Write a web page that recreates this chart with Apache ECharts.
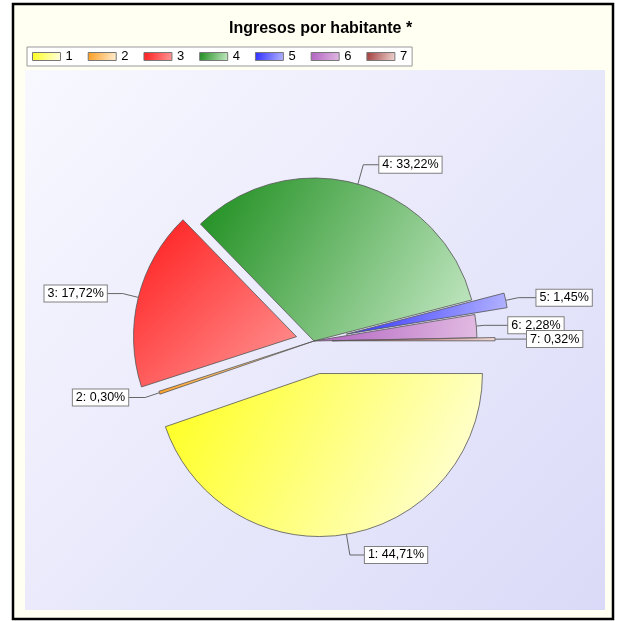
<!DOCTYPE html>
<html>
<head>
<meta charset="utf-8">
<script src="https://cdn.jsdelivr.net/npm/echarts@6/dist/echarts.min.js"></script>
<style>
  html, body { margin: 0; padding: 0; background: #fff; }
  #chart { width: 618px; height: 621px; }
</style>
</head>
<body>
<div id="chart"></div>
<script>
// datos
const names = ['1', '2', '3', '4', '5', '6', '7']
const values = [44.71, 0.30, 17.72, 33.22, 1.45, 2.28, 0.32]
// separacion de cada porcion (px)
const offsets = [33, 0, 18, 0, 33, 0, 18]
const baseColors = ['#ffff1a', '#ff9a1a', '#ff1a1a', '#1a8c1a', '#2a2aff', '#b060c0', '#a03a3a']
const lightColors = ['#ffffe8', '#fff0d8', '#ff9a9a', '#c8eac8', '#b8b8ff', '#e2bce2', '#f0d8d4']
const lineLen = [21, 15, 16, 20, 13, 8, 10]
const lineLen2 = [15, 17, 16, 16, 18, 24, 22]

const chart = echarts.init(document.getElementById('chart'))

function grad(i) {
  return {
    type: 'linear', x: 0, y: 0, x2: 1, y2: 1,
    colorStops: [
      { offset: 0, color: baseColors[i] },
      { offset: 1, color: lightColors[i] }
    ]
  }
}

function fmt(v) {
  return v.toFixed(2).replace('.', ',') + '%'
}

// una serie por porcion, para poder separar cada una con su propio desplazamiento
const series = names.map((n, i) => ({
  type: 'pie',
  center: [314, 341],
  radius: 163,
  startAngle: 0,
  clockwise: true,
  selectedMode: 'single',
  selectedOffset: offsets[i],
  avoidLabelOverlap: false,
  animation: false,
  labelLayout: { hideOverlap: false },
  label: {
    position: 'outside',
    formatter: p => p.name + ': ' + fmt(p.value),
    color: '#000',
    fontSize: 12.5,
    fontFamily: 'Arial, Liberation Sans, sans-serif',
    backgroundColor: '#fff',
    borderColor: '#808080',
    borderWidth: 1,
    padding: [1, 3, 0, 3],
    lineHeight: 15,
    distanceToLabelLine: 0
  },
  labelLine: {
    length: lineLen[i],
    length2: lineLen2[i],
    lineStyle: { color: '#666', width: 1 }
  },
  select: { itemStyle: { color: grad(i), borderColor: '#555', borderWidth: 0.8 } },
  data: names.map((name, j) => ({
    name,
    value: values[j],
    selected: j === i && offsets[i] > 0,
    itemStyle: j === i
      ? { color: grad(j), borderColor: '#555', borderWidth: 0.8 }
      : { color: 'rgba(0,0,0,0)', borderWidth: 0 },
    label: { show: j === i },
    labelLine: { show: j === i },
    emphasis: { disabled: true }
  }))
}))

const option = {
  animation: false,
  graphic: [
    {
      type: 'rect',
      z: 0,
      shape: { x: 13, y: 4, width: 600, height: 615 },
      style: { fill: '#fffff2', stroke: '#000', lineWidth: 2.5 }
    },
    {
      type: 'rect',
      z: 0,
      shape: { x: 25, y: 70, width: 580, height: 540 },
      style: {
        fill: {
          type: 'linear', x: 0, y: 0, x2: 1, y2: 1,
          colorStops: [
            { offset: 0, color: '#f8f8ff' },
            { offset: 1, color: '#dadaf8' }
          ]
        }
      }
    }
  ],
  title: {
    text: 'Ingresos por habitante *',
    left: 224,
    top: 16,
    textStyle: {
      fontSize: 16,
      fontWeight: 'bold',
      color: '#000',
      fontFamily: 'Arial, Liberation Sans, sans-serif'
    }
  },
  legend: {
    left: 27,
    top: 47,
    orient: 'horizontal',
    icon: 'rect',
    itemWidth: 28,
    itemHeight: 8,
    itemGap: 15,
    padding: [3, 5, 3, 5],
    backgroundColor: '#fff',
    borderColor: '#999',
    borderWidth: 1,
    borderRadius: 0,
    textStyle: { fontSize: 13, color: '#000', fontFamily: 'Arial, Liberation Sans, sans-serif' },
    data: names.map((n, i) => ({
      name: n,
      itemStyle: { color: grad(i), borderColor: '#777', borderWidth: 1 }
    }))
  },
  series
}

chart.setOption(option)
</script>
</body>
</html>
